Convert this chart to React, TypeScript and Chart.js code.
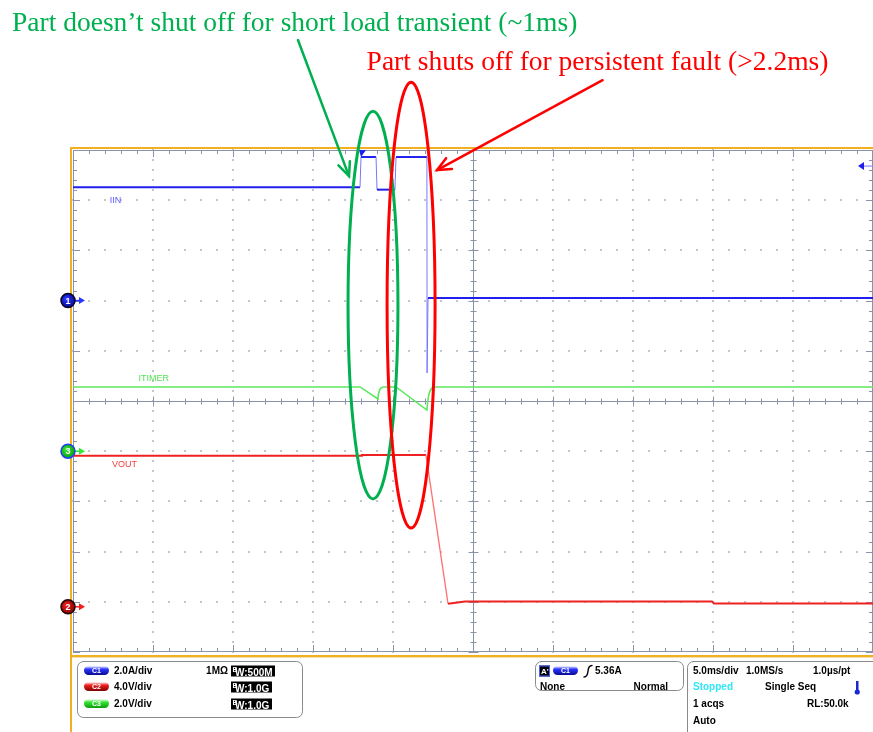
import React, { useEffect, useRef } from "react";
import { Chart, registerables } from "chart.js";

Chart.register(...registerables);

// ---------------- data (time in ms, 5 ms/div) ----------------
const timeIIN = [0, 17.94, 18.0, 18.94, 19.0, 20.12, 20.19, 22.12, 22.13, 22.19, 50];
const iinAmps = [4.52, 4.52, 5.72, 5.72, 4.42, 4.42, 5.72, 5.72, -2.88, 0.1, 0.1];

const timeITIMER = [0, 17.94, 19.06, 19.09, 19.16, 19.25, 19.38, 20.19, 22.12, 22.16, 22.22, 22.31, 22.44, 22.56, 50];
const itimerVolts = [2.56, 2.56, 2.08, 2.28, 2.44, 2.52, 2.56, 2.56, 1.64, 1.92, 2.2, 2.4, 2.52, 2.56, 2.56];

const timeVOUT = [0, 18.0, 18.06, 22.06, 23.44, 24.5, 39.94, 40.06, 50];
const voutVolts = [12.03, 12.03, 12.1, 12.1, 0.24, 0.42, 0.42, 0.26, 0.26];

// channel setup
const channelNames = ["C1", "C2", "C3"];
const channelPerDiv = [2.0, 4.0, 2.0];
const channelUnits = ["A", "V", "V"];
const channelOffsetDiv = [2.0, -4.1, -1.0];
const channelBandwidth = ["500M", "1.0G", "1.0G"];
const traceLabels = ["IIN", "VOUT", "ITIMER"];

const msPerDiv = 5;
const numXDiv = 10;
const numYDiv = 10;
const triggerTime = 18.0;
const triggerLevel = 5.36;

const acqTexts = ["5.0ms/div", "1.0MS/s", "1.0µs/pt", "Stopped", "Single Seq", "1 acqs", "RL:50.0k", "Auto"];

const noteGreen = "Part doesn\u2019t shut off for short load transient (~1ms)";
const noteRed = "Part shuts off for persistent fault (>2.2ms)";

// annotation geometry in plot units (x: ms, y: divisions from centre)
const greenEllipse = { t: 18.75, d: 1.91, rt: 1.56, rd: 3.86 };
const redEllipse = { t: 21.13, d: 1.91, rt: 1.5, rd: 4.44 };
const greenArrow = { t0: 14.06, d0: 7.19, t1: 17.25, d1: 4.48 };
const redArrow = { t0: 33.1, d0: 6.39, t1: 22.75, d1: 4.6 };
const greenNotePos = { t: -3.81, d: 7.37 };
const redNotePos = { t: 18.35, d: 6.6 };
const labelPos = [
  { t: 2.3, d: 4.0 },
  { t: 2.44, d: -1.27 },
  { t: 4.1, d: 0.44 },
];

const BLUE = "#1f1fee";
const BLUE_LIGHT = "#7777ff";
const RED = "#ee2222";
const RED_LIGHT = "#ff7070";
const GREEN = "#5fe65f";
const GRAT = "#8a93a8";
const DOT = "#c2c6cf";
const ORANGE = "#f0b020";

const toPts = (ts: number[], vs: number[]) => ts.map((t, i) => ({ x: t, y: vs[i] }));

const steep = (c: any) => {
  const dx = Math.abs(c.p1.x - c.p0.x);
  const dy = Math.abs(c.p1.y - c.p0.y);
  return dy > 4 && dy > 3 * dx;
};

function rr(ctx: CanvasRenderingContext2D, x: number, y: number, w: number, h: number, r: number) {
  ctx.beginPath();
  ctx.moveTo(x + r, y);
  ctx.arcTo(x + w, y, x + w, y + h, r);
  ctx.arcTo(x + w, y + h, x, y + h, r);
  ctx.arcTo(x, y + h, x, y, r);
  ctx.arcTo(x, y, x + w, y, r);
  ctx.closePath();
}

const graticule = {
  id: "graticule",
  beforeDatasetsDraw(chart: any) {
    const { ctx, chartArea: a } = chart;
    const xs = chart.scales.x;
    const ys = chart.scales.yDiv;
    const X = (t: number) => Math.round(xs.getPixelForValue(t));
    const Y = (d: number) => Math.round(ys.getPixelForValue(d));
    ctx.save();
    // dotted grid
    ctx.fillStyle = DOT;
    const xMin = numXDiv * 5;
    const yMin = numYDiv * 5;
    for (let i = 1; i < numXDiv; i++) {
      if (i === numXDiv / 2) continue;
      const x = X(i * msPerDiv);
      for (let k = 0; k <= yMin; k++) ctx.fillRect(x - 1, Y(-numYDiv / 2 + k * 0.2) - 1, 2, 2);
    }
    for (let j = 1; j < numYDiv; j++) {
      if (j === numYDiv / 2) continue;
      const y = Y(-numYDiv / 2 + j);
      for (let k = 0; k <= xMin; k++) ctx.fillRect(X((k * msPerDiv) / 5) - 1, y - 1, 2, 2);
    }
    ctx.strokeStyle = GRAT;
    ctx.lineWidth = 1;
    const line = (x0: number, y0: number, x1: number, y1: number) => {
      ctx.beginPath();
      ctx.moveTo(x0, y0);
      ctx.lineTo(x1, y1);
      ctx.stroke();
    };
    const cy = Y(0) + 0.5;
    const cx = X((numXDiv / 2) * msPerDiv) + 0.5;
    line(a.left, cy, a.right, cy);
    line(cx, a.top, cx, a.bottom);
    for (let k = 0; k <= xMin; k++) {
      const x = X((k * msPerDiv) / 5) + 0.5;
      const major = k % 5 === 0;
      const s = major ? 5 : 3;
      line(x, cy - s, x, cy + s);
      const e = major ? 7 : 4;
      line(x, a.top, x, a.top + e);
      line(x, a.bottom, x, a.bottom - e);
    }
    for (let k = 0; k <= yMin; k++) {
      const y = Y(-numYDiv / 2 + k * 0.2) + 0.5;
      const major = k % 5 === 0;
      const s = major ? 5 : 3;
      line(cx - s, y, cx + s, y);
      const e = major ? 7 : 4;
      line(a.left, y, a.left + e, y);
      line(a.right, y, a.right - e, y);
    }
    line(a.left, a.top + 0.5, a.right, a.top + 0.5);
    line(a.left + 0.5, a.top, a.left + 0.5, a.bottom);
    line(a.left, a.bottom - 0.5, a.right, a.bottom - 0.5);
    line(a.right - 0.5, a.top, a.right - 0.5, a.bottom);
    // orange frame
    ctx.fillStyle = ORANGE;
    ctx.fillRect(a.left - 3, a.top - 3, a.right - a.left + 3, 2);
    ctx.fillRect(a.left - 3, a.top - 3, 2, chart.height - a.top + 3);
    ctx.fillRect(a.left - 1, a.bottom + 3, a.right - a.left + 1, 2);
    ctx.fillStyle = "#f3dfa8";
    ctx.fillRect(a.left - 1, a.bottom + 5, a.right - a.left + 1, 1);
    ctx.restore();
  },
};

function pill(ctx: CanvasRenderingContext2D, x: number, y: number, color: string, dark: string, label: string) {
  const w = 25, h = 9;
  const g = ctx.createLinearGradient(0, y, 0, y + h);
  g.addColorStop(0, "#ffffff");
  g.addColorStop(0.35, color);
  g.addColorStop(1, dark);
  ctx.fillStyle = g;
  rr(ctx, x, y, w, h, 4.5);
  ctx.fill();
  ctx.fillStyle = "#ffffff";
  ctx.font = "bold 7px 'Liberation Sans'";
  ctx.textAlign = "center";
  ctx.textBaseline = "middle";
  ctx.fillText(label, x + w / 2, y + h / 2 + 0.5);
  ctx.textAlign = "left";
}

function bwBox(ctx: CanvasRenderingContext2D, x: number, y: number, w: number, val: string) {
  ctx.fillStyle = "#000";
  ctx.fillRect(x, y, w, 11);
  ctx.fillStyle = "#fff";
  ctx.textBaseline = "alphabetic";
  ctx.font = "bold 7px 'Liberation Sans'";
  ctx.fillText("B", x + 1.5, y + 6);
  ctx.font = "bold 10px 'Liberation Sans'";
  ctx.fillText("W:" + val, x + 4, y + 10.5);
}

const channelColors = [
  { fill: "#2a35ff", dark: "#0a0a90", ring: "#05052a", arrow: "#2a35ff" },
  { fill: "#f02020", dark: "#800000", ring: "#2a0505", arrow: "#f02020" },
  { fill: "#33e633", dark: "#0a9a0a", ring: "#2040ff", arrow: "#33e633" },
];

const overlay = {
  id: "overlay",
  afterDatasetsDraw(chart: any) {
    const { ctx, chartArea: a } = chart;
    const xs = chart.scales.x;
    const ys = chart.scales.yDiv;
    const X = (t: number) => xs.getPixelForValue(t);
    const Y = (d: number) => ys.getPixelForValue(d);
    const pxPerMs = X(1) - X(0);
    const pxPerDiv = Y(0) - Y(1);
    ctx.save();

    // trace labels
    ctx.font = "9px 'Liberation Sans'";
    ctx.textBaseline = "middle";
    const labelColors = ["#5a5aff", "#f04040", "#55e055"];
    traceLabels.forEach((s, i) => {
      ctx.fillStyle = labelColors[i];
      ctx.fillText(s, X(labelPos[i].t), Y(labelPos[i].d));
    });

    // channel ground markers
    ["yC1", "yC2", "yC3"].forEach((id, i) => {
      const y = chart.scales[id].getPixelForValue(0);
      const x = a.left - 5;
      const c = channelColors[i];
      ctx.strokeStyle = c.arrow;
      ctx.fillStyle = c.arrow;
      ctx.lineWidth = 1.5;
      ctx.beginPath();
      ctx.moveTo(x + 6, y);
      ctx.lineTo(x + 13, y);
      ctx.stroke();
      ctx.beginPath();
      ctx.moveTo(x + 17, y);
      ctx.lineTo(x + 11, y - 3.5);
      ctx.lineTo(x + 11, y + 3.5);
      ctx.closePath();
      ctx.fill();
      const g = ctx.createRadialGradient(x - 2, y - 2, 1, x, y, 7.5);
      g.addColorStop(0, c.fill);
      g.addColorStop(1, c.dark);
      ctx.fillStyle = g;
      ctx.beginPath();
      ctx.arc(x, y, 7, 0, Math.PI * 2);
      ctx.fill();
      ctx.strokeStyle = c.ring;
      ctx.lineWidth = 1.5;
      ctx.stroke();
      ctx.fillStyle = "#fff";
      ctx.font = "bold 9px 'Liberation Sans'";
      ctx.textAlign = "center";
      ctx.fillText(channelNames[i].slice(1), x, y + 0.5);
      ctx.textAlign = "left";
    });

    // trigger position marker
    const tx = X(triggerTime);
    ctx.fillStyle = BLUE;
    ctx.beginPath();
    ctx.moveTo(tx - 2, a.top);
    ctx.lineTo(tx + 5, a.top);
    ctx.lineTo(tx, a.top + 7);
    ctx.closePath();
    ctx.fill();
    // trigger level marker
    const ty = chart.scales.yC1.getPixelForValue(triggerLevel);
    ctx.strokeStyle = BLUE_LIGHT;
    ctx.lineWidth = 1;
    ctx.beginPath();
    ctx.moveTo(a.right - 10, ty);
    ctx.lineTo(a.right, ty);
    ctx.stroke();
    ctx.fillStyle = BLUE;
    ctx.beginPath();
    ctx.moveTo(a.right - 15, ty);
    ctx.lineTo(a.right - 9, ty - 4);
    ctx.lineTo(a.right - 9, ty + 4);
    ctx.closePath();
    ctx.fill();

    // ---- annotations ----
    const ell = (e: any, color: string) => {
      ctx.strokeStyle = color;
      ctx.lineWidth = 3;
      ctx.beginPath();
      ctx.ellipse(X(e.t), Y(e.d), e.rt * pxPerMs, e.rd * pxPerDiv, 0, 0, Math.PI * 2);
      ctx.stroke();
    };
    ell(greenEllipse, "#00b050");
    ell(redEllipse, "#ff0000");
    const arrow = (ar: any, color: string) => {
      const x0 = X(ar.t0), y0 = Y(ar.d0), x1 = X(ar.t1), y1 = Y(ar.d1);
      ctx.strokeStyle = color;
      ctx.lineWidth = 2.5;
      ctx.lineCap = "round";
      ctx.beginPath();
      ctx.moveTo(x0, y0);
      ctx.lineTo(x1, y1);
      ctx.stroke();
      const th = Math.atan2(y1 - y0, x1 - x0);
      const L = 15, f = 0.42;
      ctx.beginPath();
      ctx.moveTo(x1 - L * Math.cos(th - f), y1 - L * Math.sin(th - f));
      ctx.lineTo(x1, y1);
      ctx.lineTo(x1 - L * Math.cos(th + f), y1 - L * Math.sin(th + f));
      ctx.stroke();
    };
    arrow(greenArrow, "#00b050");
    arrow(redArrow, "#ff0000");
    ctx.font = "27.5px 'Liberation Serif'";
    ctx.textBaseline = "alphabetic";
    ctx.fillStyle = "#00b050";
    ctx.fillText(noteGreen, X(greenNotePos.t), Y(greenNotePos.d));
    ctx.fillStyle = "#ff0000";
    ctx.fillText(noteRed, X(redNotePos.t), Y(redNotePos.d));

    // ---- info panels ----
    const py = a.bottom + 9;
    ctx.lineWidth = 1;
    ctx.strokeStyle = "#8a8a8a";
    ctx.fillStyle = "#fff";
    rr(ctx, a.left + 4.5, py + 0.5, 225, 56, 6);
    ctx.fill();
    ctx.stroke();
    rr(ctx, a.left + 462.5, py + 0.5, 148, 29, 6);
    ctx.fill();
    ctx.stroke();
    rr(ctx, a.left + 614.5, py + 0.5, 200, 90, 6);
    ctx.fill();
    ctx.stroke();

    const rowY = [py + 10, py + 26, py + 43];
    const pillOrder = [0, 1, 2];
    pillOrder.forEach((ci, r) => {
      const c = channelColors[ci];
      pill(ctx, a.left + 11, rowY[r] - 5, c.fill, c.dark, channelNames[ci]);
      ctx.fillStyle = "#000";
      ctx.font = "bold 10px 'Liberation Sans'";
      ctx.textBaseline = "middle";
      ctx.textAlign = "left";
      ctx.fillText(channelPerDiv[ci].toFixed(1) + channelUnits[ci] + "/div", a.left + 41, rowY[r]);
      const w = ci === 0 ? 44 : 41;
      bwBox(ctx, a.left + 158, rowY[r] - 5.5, w, channelBandwidth[ci]);
    });
    ctx.fillStyle = "#000";
    ctx.font = "bold 10px 'Liberation Sans'";
    ctx.textBaseline = "middle";
    ctx.textAlign = "right";
    ctx.fillText("1M\u03A9", a.left + 155, rowY[0]);
    ctx.textAlign = "left";

    // trigger panel
    const tx0 = a.left + 466;
    ctx.fillStyle = "#000";
    ctx.fillRect(tx0, rowY[0] - 5.5, 11, 11);
    ctx.strokeStyle = "#4060ff";
    ctx.strokeRect(tx0 + 0.5, rowY[0] - 5, 10, 10);
    ctx.fillStyle = "#fff";
    ctx.font = "bold 8px 'Liberation Sans'";
    ctx.fillText("A'", tx0 + 2, rowY[0] + 0.5);
    pill(ctx, tx0 + 14, rowY[0] - 5, channelColors[0].fill, channelColors[0].dark, channelNames[0]);
    ctx.strokeStyle = "#000";
    ctx.lineWidth = 1.4;
    ctx.beginPath();
    ctx.moveTo(tx0 + 45, rowY[0] + 6);
    ctx.quadraticCurveTo(tx0 + 48.5, rowY[0] + 6, tx0 + 49, rowY[0]);
    ctx.quadraticCurveTo(tx0 + 49.5, rowY[0] - 5.5, tx0 + 53, rowY[0] - 5.5);
    ctx.stroke();
    ctx.fillStyle = "#000";
    ctx.font = "bold 10px 'Liberation Sans'";
    ctx.fillText(triggerLevel.toFixed(2) + channelUnits[0], tx0 + 56, rowY[0]);
    ctx.fillText("None", tx0 + 1, rowY[1]);
    ctx.textAlign = "right";
    ctx.fillText("Normal", tx0 + 129, rowY[1]);
    ctx.textAlign = "left";

    // acquisition panel
    const ax = a.left + 620;
    const aRow = [rowY[0], rowY[1], rowY[2], py + 60];
    ctx.fillText(acqTexts[0], ax, aRow[0]);
    ctx.fillText(acqTexts[1], ax + 53, aRow[0]);
    ctx.fillText(acqTexts[2], ax + 120, aRow[0]);
    ctx.fillStyle = "#30e8f5";
    ctx.fillText(acqTexts[3], ax, aRow[1]);
    ctx.fillStyle = "#000";
    ctx.fillText(acqTexts[4], ax + 72, aRow[1]);
    ctx.fillText(acqTexts[5], ax, aRow[2]);
    ctx.fillText(acqTexts[6], ax + 114, aRow[2]);
    ctx.fillText(acqTexts[7], ax, aRow[3]);
    // thermometer icon
    ctx.fillStyle = "#1a2ad0";
    ctx.fillRect(ax + 163, aRow[1] - 6, 2.5, 10);
    ctx.beginPath();
    ctx.arc(ax + 164.25, aRow[1] + 5, 2.6, 0, Math.PI * 2);
    ctx.fill();

    ctx.restore();
  },
};

export default function App() {
  const ref = useRef<HTMLCanvasElement>(null);
  useEffect(() => {
    const canvas = ref.current;
    if (!canvas) return;
    const axis = (i: number) => ({
      type: "linear" as const,
      display: false,
      min: (-numYDiv / 2 - channelOffsetDiv[i]) * channelPerDiv[i],
      max: (numYDiv / 2 - channelOffsetDiv[i]) * channelPerDiv[i],
    });
    const chart = new Chart(canvas, {
      type: "line",
      data: {
        datasets: [
          {
            label: "VOUT",
            data: toPts(timeVOUT, voutVolts),
            yAxisID: "yC2",
            borderColor: RED,
            borderWidth: 2,
            pointRadius: 0,
            tension: 0,
            segment: {
              borderColor: (c: any) => (steep(c) ? RED_LIGHT : RED),
              borderWidth: (c: any) => (steep(c) ? 1.3 : 2),
            },
          },
          {
            label: "ITIMER",
            data: toPts(timeITIMER, itimerVolts),
            yAxisID: "yC3",
            borderColor: GREEN,
            borderWidth: 1.6,
            pointRadius: 0,
            tension: 0,
          },
          {
            label: "IIN",
            data: toPts(timeIIN, iinAmps),
            yAxisID: "yC1",
            borderColor: BLUE,
            borderWidth: 2,
            pointRadius: 0,
            tension: 0,
            segment: {
              borderColor: (c: any) => (steep(c) ? BLUE_LIGHT : BLUE),
              borderWidth: (c: any) => (steep(c) ? 1 : 2),
            },
          },
        ],
      },
      options: {
        responsive: false,
        animation: false,
        devicePixelRatio: 1,
        layout: { padding: { left: 73, right: 0, top: 150, bottom: 80 } },
        plugins: { legend: { display: false }, tooltip: { enabled: false }, title: { display: false } },
        scales: {
          x: { type: "linear", display: false, min: 0, max: numXDiv * msPerDiv },
          yDiv: { type: "linear", display: false, min: -numYDiv / 2, max: numYDiv / 2 },
          yC1: axis(0),
          yC2: axis(1),
          yC3: axis(2),
        },
      } as any,
      plugins: [graticule, overlay],
    });
    return () => chart.destroy();
  }, []);
  return (
    <div style={{ position: "fixed", left: 0, top: 0, width: 873, height: 732, background: "#fff" }}>
      <canvas ref={ref} width={873} height={732} style={{ display: "block", width: 873, height: 732 }} />
    </div>
  );
}
